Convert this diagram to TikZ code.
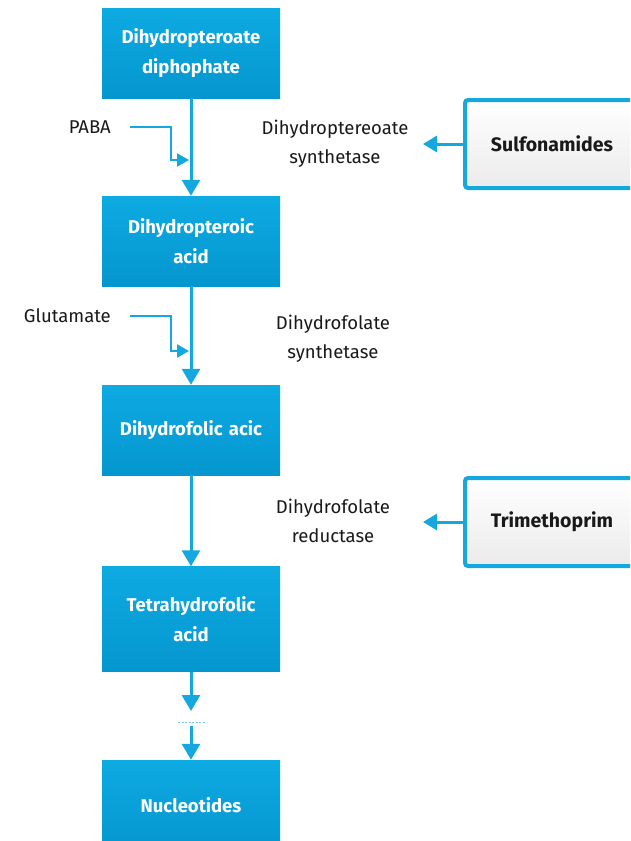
\documentclass[tikz,border=0pt]{standalone}
\usepackage{fontspec}
\setmainfont{Fira Sans}
\usetikzlibrary{arrows.meta}
\definecolor{boxtop}{HTML}{0EAAE2}
\definecolor{boxbot}{HTML}{0596CF}
\definecolor{lineblue}{HTML}{14A8DE}
\definecolor{sidegray}{HTML}{EBEBEB}
\tikzset{
  pbox/.style={rectangle, top color=boxtop, bottom color=boxbot, draw=none,
    minimum width=178pt, text width=176pt, align=center, text=white,
    font=\fontsize{18.5}{29.5}\selectfont\bfseries, inner sep=0pt},
  sbox/.style={rectangle, rounded corners=3pt, draw=lineblue, line width=4pt,
    top color=white, bottom color=sidegray, minimum width=190pt, minimum height=88pt,
    font=\fontsize{19.5}{22}\selectfont\bfseries, text=black!90},
  lbl/.style={align=center, font=\fontsize{18.5}{29}\selectfont, text=black!90, inner sep=0pt},
  flow/.style={draw=lineblue, line width=3pt, -{Triangle[width=18pt,length=16pt]}},
  sideflow/.style={draw=lineblue, line width=2.5pt, -{Triangle[width=13pt,length=12pt]}},
}
\begin{document}
\begin{tikzpicture}[x=1pt,y=-1pt]
\useasboundingbox (0,0) rectangle (630,841);
\clip (0,0) rectangle (630,841);
\fill[white] (0,0) rectangle (630,841);
% main boxes
\node[pbox, minimum height=90pt] (b1) at (191,53) {Dihydropteroate\\diphophate};
\node[pbox, minimum height=90pt] (b2) at (191,241) {Dihydropteroic\\acid};
\node[pbox, minimum height=90pt] (b3) at (191,430) {Dihydrofolic acic};
\node[pbox, minimum height=105pt] (b4) at (191,619) {Tetrahydrofolic\\acid};
\node[pbox, minimum height=90pt] (b5) at (191,805) {Nucleotides};
% side boxes
\node[sbox, anchor=west] (s1) at (463,144) {\hspace*{-16pt}Sulfonamides};
\node[sbox, anchor=west] (s2) at (463,522) {\hspace*{-16pt}Trimethoprim};
% enzyme labels
\node[lbl] (e1) at (335,144) {Dihydroptereoate\\synthetase};
\node[lbl] (e2) at (333,339) {Dihydrofolate\\synthetase};
\node[lbl] (e3) at (333,521) {Dihydrofolate\\reductase};
% substrates
\node[lbl, anchor=east] (paba) at (111,127) {PABA};
\node[lbl, anchor=east] (glu) at (111,316) {Glutamate};
% coordinates
\coordinate (pabastart) at (130,127);
\coordinate (pabaend) at (189,160);
\coordinate (glustart) at (130,316);
\coordinate (gluend) at (189,351);
\coordinate (midtip) at (191,711);
\coordinate (midstart) at (191,726);
\coordinate (dashl) at (178,722);
\coordinate (dashr) at (205,722);
\coordinate (arr1) at (423,144);
\coordinate (arr2) at (423,522);
% main flow
\draw[flow] (b1.south) -- (b2.north);
\draw[flow] (b2.south) -- (b3.north);
\draw[flow] (b3.south) -- (b4.north);
\draw[flow] (b4.south) -- (midtip);
\draw[flow] (midstart) -- (b5.north);
\draw[draw=lineblue!60, line width=1pt, dash pattern=on 2pt off 1.5pt] (dashl) -- (dashr);
% side inputs
\draw[sideflow] (pabastart) -- (171,127) -- (171,160) -- (pabaend);
\draw[sideflow] (glustart) -- (171,316) -- (171,351) -- (gluend);
% inhibitors
\draw[sideflow, line width=3pt, -{Triangle[width=16pt,length=14pt]}] (s1.west) -- (arr1);
\draw[sideflow, line width=3pt, -{Triangle[width=16pt,length=14pt]}] (s2.west) -- (arr2);
\end{tikzpicture}
\end{document}
